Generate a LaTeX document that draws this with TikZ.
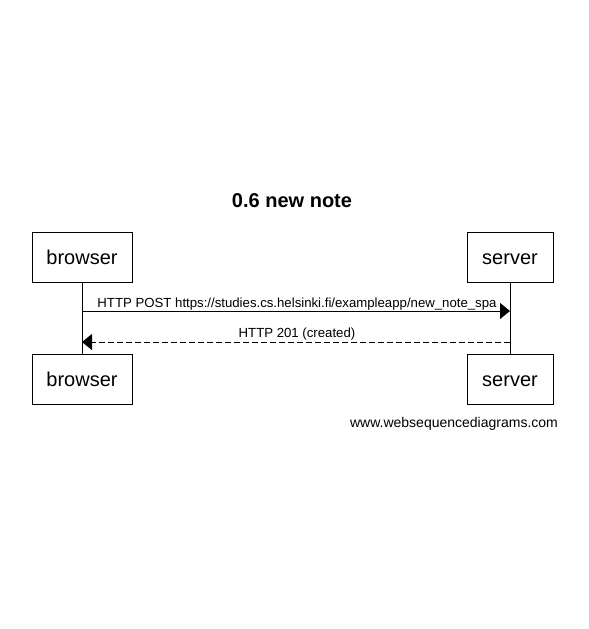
\documentclass[tikz,border=0pt]{standalone}
\usepackage{fontspec}
\setmainfont{Liberation Sans}
\usetikzlibrary{arrows.meta}
\begin{document}
\begin{tikzpicture}[x=0.75pt,y=-0.75pt,
  actor/.style={draw=black,line width=0.75pt,minimum width=75pt,minimum height=37.5pt,inner sep=0pt,text height=10.9pt,text depth=0pt,font=\fontsize{15pt}{18pt}\selectfont},
  lifeline/.style={line width=0.75pt},
  msg/.style={line width=0.75pt,-{Triangle[length=7.5pt,width=12pt]}},
  reply/.style={msg,dash pattern=on 4.5pt off 2.25pt},
  msglabel/.style={anchor=base,inner sep=0pt,font=\fontsize{9.9pt}{12pt}\selectfont}]
\useasboundingbox (0,0) rectangle (589,629);
\node[anchor=base,inner sep=0pt,font=\fontsize{15pt}{18pt}\selectfont\bfseries] (title) at (292,207) {0.6 new note};
\node[actor] (b1) at (82,257) {browser};
\node[actor,minimum width=64.5pt] (s1) at (510,257) {server};
\node[actor] (b2) at (82,379) {browser};
\node[actor,minimum width=64.5pt] (s2) at (510,379) {server};
\draw[lifeline] (b1.south) -- (b2.north);
\draw[lifeline] (s1.south) -- (s2.north);
\coordinate (m1a) at (82,311);
\coordinate (m1b) at (510,311);
\coordinate (m2a) at (510,342);
\coordinate (m2b) at (82,342);
\draw[msg] (m1a) -- (m1b);
\draw[reply] (m2a) -- (m2b);
\node[msglabel] (l1) at (297,307) {HTTP POST https://studies.cs.helsinki.fi/exampleapp/new\_note\_spa};
\node[msglabel] (l2) at (297,337) {HTTP 201 (created)};
\node[anchor=base,inner sep=0pt,font=\fontsize{10.5pt}{12pt}\selectfont] (foot) at (454,427) {www.websequencediagrams.com};
\end{tikzpicture}
\end{document}
